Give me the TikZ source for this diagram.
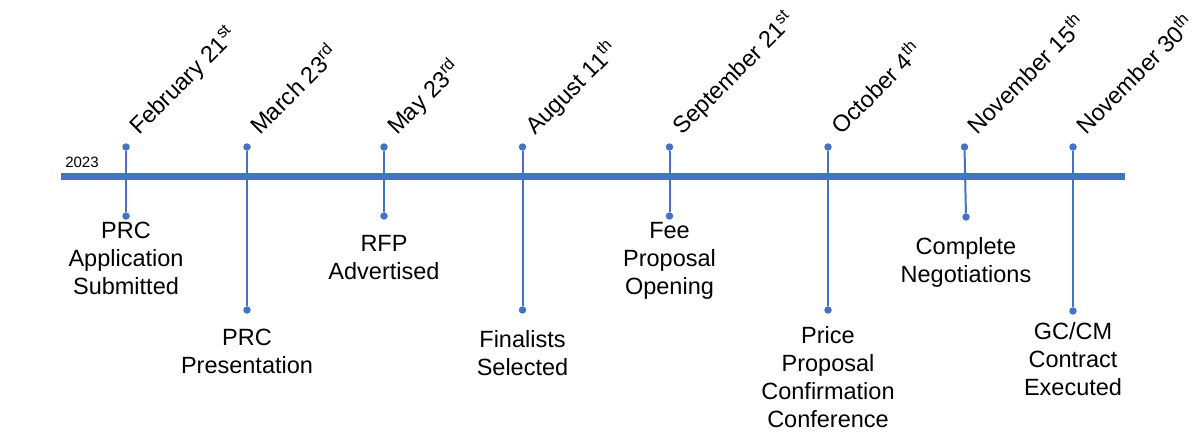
\documentclass[tikz,border=0pt]{standalone}
\usepackage{fontspec}
\setmainfont{Liberation Sans}
\usetikzlibrary{positioning}
\definecolor{tlblue}{HTML}{4472C4}

\begin{document}
\begin{tikzpicture}[x=1pt,y=1pt,
  dot/.style={circle,fill=tlblue,inner sep=0pt,outer sep=0pt,minimum size=7.5pt},
  stem/.style={draw=tlblue,line width=2pt},
  datelbl/.style={rotate=45,anchor=base west,inner sep=0pt,font=\fontsize{23.5}{28}\selectfont},
  evlbl/.style={align=center,inner sep=0pt,font=\fontsize{23.5}{28}\selectfont}]
\useasboundingbox (0,0) rectangle (1196,432);

\coordinate (s) at (60.5,256);
\coordinate (e) at (1125,256);
\draw[tlblue,line width=7pt] (s) -- (e);
\node[inner sep=0pt,font=\fontsize{15}{18}\selectfont] (yr) at (82,270) {2023};

\node[dot] (t1) at (126,285) {};
\node[dot] (b1) at (126,216) {};
\node[dot] (t2) at (247,285) {};
\node[dot] (b2) at (247,122) {};
\node[dot] (t3) at (384,285) {};
\node[dot] (b3) at (384,216) {};
\node[dot] (t4) at (522.5,285) {};
\node[dot] (b4) at (522.5,122) {};
\node[dot] (t5) at (669.5,285) {};
\node[dot] (b5) at (669.5,216) {};
\node[dot] (t6) at (828,285) {};
\node[dot] (b6) at (828,122) {};
\node[dot] (t7) at (964.5,285) {};
\node[dot] (b7) at (966,215) {};
\node[dot] (t8) at (1073,285) {};
\node[dot] (b8) at (1073,121) {};

\draw[stem] (t1) -- (b1);
\draw[stem] (t2) -- (b2);
\draw[stem] (t3) -- (b3);
\draw[stem] (t4) -- (b4);
\draw[stem] (t5) -- (b5);
\draw[stem] (t6) -- (b6);
\draw[stem] (t7) -- (b7);
\draw[stem] (t8) -- (b8);

\node[datelbl] (d1) at ([shift={(13,11)}]t1) {February 21\textsuperscript{st}};
\node[datelbl] (d2) at ([shift={(13,11)}]t2) {March 23\textsuperscript{rd}};
\node[datelbl] (d3) at ([shift={(13,11)}]t3) {May 23\textsuperscript{rd}};
\node[datelbl] (d4) at ([shift={(13,11)}]t4) {August 11\textsuperscript{th}};
\node[datelbl] (d5) at ([shift={(13,11)}]t5) {September 21\textsuperscript{st}};
\node[datelbl] (d6) at ([shift={(13,11)}]t6) {October 4\textsuperscript{th}};
\node[datelbl] (d7) at ([shift={(13,11)}]t7) {November 15\textsuperscript{th}};
\node[datelbl] (d8) at ([shift={(13,11)}]t8) {November 30\textsuperscript{th}};

\node[evlbl,below=2.5pt of b1] (l1) {PRC\\Application\\Submitted};
\node[evlbl,below=15.5pt of b2] (l2) {PRC\\Presentation};
\node[evlbl,below=15.5pt of b3] (l3) {RFP\\Advertised};
\node[evlbl,below=16.5pt of b4] (l4) {Finalists\\Selected};
\node[evlbl,below=2.5pt of b5] (l5) {Fee\\Proposal\\Opening};
\node[evlbl,below=12.5pt of b6] (l6) {Price\\Proposal\\Confirmation\\Conference};
\node[evlbl,below=16.5pt of b7] (l7) {Complete\\Negotiations};
\node[evlbl,below=7.5pt of b8] (l8) {GC/CM\\Contract\\Executed};

\end{tikzpicture}
\end{document}
